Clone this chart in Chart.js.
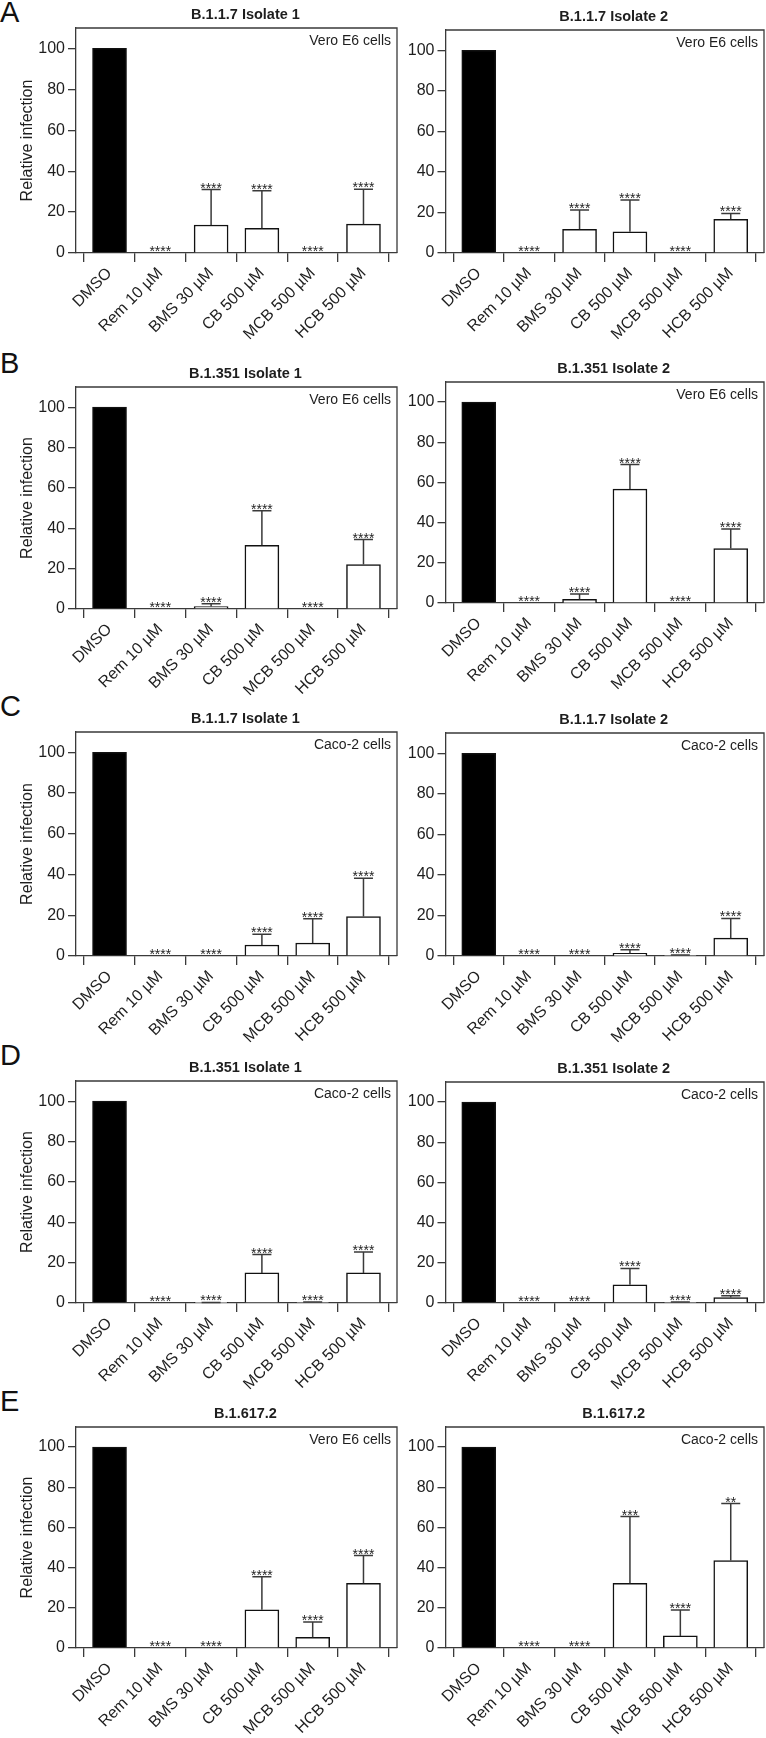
<!DOCTYPE html>
<html>
<head>
<meta charset="utf-8">
<title>Relative infection</title>
<script src="https://cdn.jsdelivr.net/npm/chart.js@4/dist/chart.umd.min.js"></script>
<style>
  body { margin: 0; background: #fff; }
  .page { position: relative; width: 766px; height: 1738px; overflow: hidden; font-family: "Liberation Sans", Arial, sans-serif; }
  .page canvas { position: absolute; }
  .letter { position: absolute; left: 0; font-size: 29px; line-height: 1; color: #111; }
</style>
</head>
<body>
<div class="page" id="page"></div>

<script>
// categories and axis ticks
var categories = ["DMSO", "Rem 10 \u00b5M", "BMS 30 \u00b5M", "CB 500 \u00b5M", "MCB 500 \u00b5M", "HCB 500 \u00b5M"];
var yTickValues = [0, 20, 40, 60, 80, 100];
var yMax = 110;

var panelLetters = ["A", "B", "C", "D", "E"];
var panelTitles = ["B.1.1.7 Isolate 1", "B.1.1.7 Isolate 2", "B.1.351 Isolate 1", "B.1.351 Isolate 2",
                   "B.1.1.7 Isolate 1", "B.1.1.7 Isolate 2", "B.1.351 Isolate 1", "B.1.351 Isolate 2",
                   "B.1.617.2", "B.1.617.2"];
var cellLines = ["Vero E6 cells", "Vero E6 cells", "Vero E6 cells", "Vero E6 cells",
                 "Caco-2 cells", "Caco-2 cells", "Caco-2 cells", "Caco-2 cells",
                 "Vero E6 cells", "Caco-2 cells"];

// mean relative infection and SD (upper error bar) per panel
var meanA1 = [100, 0, 13.7, 12.1, 0, 14.1];
var sdA1   = [0, 0, 17.3, 18.3, 0, 17.1];
var meanA2 = [100, 0, 11.7, 10.5, 0, 16.6];
var sdA2   = [0, 0, 9.5, 15.6, 0, 2.9];
var meanB1 = [100, 0, 1.2, 31.6, 0, 22.0];
var sdB1   = [0, 0, 1.4, 17.1, 0, 12.4];
var meanB2 = [100, 0, 1.8, 56.7, 0, 27.1];
var sdB2   = [0, 0, 2.7, 12.2, 0, 9.7];
var meanC1 = [100, 0, 0, 5.4, 6.4, 19.4];
var sdC1   = [0, 0, 0, 5.3, 11.9, 18.8];
var meanC2 = [100, 0, 0, 1.3, 0.3, 8.8];
var sdC2   = [0, 0, 0, 1.8, 0.2, 9.7];
var meanD1 = [100, 0, 0.2, 14.9, 0.3, 14.9];
var sdD1   = [0, 0, 0.1, 9.1, 0.2, 10.4];
var meanD2 = [100, 0, 0, 9.1, 0.3, 2.7];
var sdD2   = [0, 0, 0, 8.1, 0.2, 0.9];
var meanE1 = [100, 0, 0, 19.0, 5.3, 32.2];
var sdE1   = [0, 0, 0, 16.5, 7.7, 13.8];
var meanE2 = [100, 0, 0, 32.2, 6.0, 43.5];
var sdE2   = [0, 0, 0, 33.2, 12.9, 28.4];

// significance marks
var starsAll = ["", "****", "****", "****", "****", "****"];
var starsE2  = ["", "****", "****", "***", "****", "**"];

var means = [meanA1, meanA2, meanB1, meanB2, meanC1, meanC2, meanD1, meanD2, meanE1, meanE2];
var sds   = [sdA1, sdA2, sdB1, sdB2, sdC1, sdC2, sdD1, sdD2, sdE1, sdE2];
var stars = [starsAll, starsAll, starsAll, starsAll, starsAll, starsAll, starsAll, starsAll, starsAll, starsE2];

// layout (pixels): frame top and x-axis line for each panel
var frameTops = [28, 30, 387, 382, 732, 733, 1081, 1082, 1427, 1427];
var axisLines = [253, 253, 609, 603, 956, 956, 1303, 1303, 1648, 1648];
var letterTops = [-2, 349, 692, 1041, 1387];
var colLeft = [0, 404];
var colWidth = [404, 362];
var frameLeft = [76, 445.5];
var frameRight = [397, 764];

var FONT = "'Liberation Sans', Arial, sans-serif";
var INK = "#1e1e1e";
var LINE = "#3a3a3a";

var page = document.getElementById("page");

panelLetters.forEach(function (l, r) {
  var d = document.createElement("div");
  d.className = "letter";
  d.style.top = letterTops[r] + "px";
  d.textContent = l;
  page.appendChild(d);
});

function makeDecor(p) {
  return {
    id: "decor" + p,
    afterDatasetsDraw: function (chart) {
      var ctx = chart.ctx, a = chart.chartArea;
      var xs = chart.scales.x, ys = chart.scales.y;
      ctx.save();
      ctx.strokeStyle = LINE;
      ctx.lineWidth = 1.3;
      ctx.beginPath();
      ctx.moveTo(a.left, a.top);
      ctx.lineTo(a.right, a.top);
      ctx.lineTo(a.right, a.bottom);
      ctx.stroke();

      ctx.lineWidth = 1.5;
      ctx.fillStyle = INK;
      ctx.font = "14px " + FONT;
      ctx.textAlign = "center";
      ctx.textBaseline = "alphabetic";
      means[p].forEach(function (m, i) {
        var sd = sds[p][i];
        var cx = xs.getPixelForValue(i);
        var yTop = ys.getPixelForValue(m + sd);
        if (sd > 0) {
          ctx.beginPath();
          ctx.moveTo(cx, ys.getPixelForValue(m));
          ctx.lineTo(cx, yTop);
          ctx.moveTo(cx - 9.5, yTop);
          ctx.lineTo(cx + 9.5, yTop);
          ctx.stroke();
        }
        if (stars[p][i]) ctx.fillText(stars[p][i], cx, yTop + 3);
      });

      ctx.font = "14px " + FONT;
      ctx.textAlign = "right";
      ctx.textBaseline = "middle";
      ctx.fillText(cellLines[p], a.right - 6, a.top + 13.5);

      ctx.font = "bold 14.5px " + FONT;
      ctx.textAlign = "center";
      ctx.fillText(panelTitles[p], (a.left + a.right) / 2 + 9, a.top - 13);
      ctx.restore();
    }
  };
}

means.forEach(function (m, p) {
  var col = p % 2;
  var topPad = 30;
  var below = 95;
  var canvasTop = frameTops[p] - topPad;
  var h = (axisLines[p] - frameTops[p]) + topPad + below;
  var cv = document.createElement("canvas");
  cv.width = colWidth[col];
  cv.height = h;
  cv.style.left = colLeft[col] + "px";
  cv.style.top = canvasTop + "px";
  page.appendChild(cv);

  var yWidth = frameLeft[col] - colLeft[col];
  var rightPad = colLeft[col] + colWidth[col] - frameRight[col];

  new Chart(cv, {
    type: "bar",
    data: {
      datasets: [{
        data: m.map(function (v, i) { return {x: i, y: v}; }),
        backgroundColor: m.map(function (v, i) { return i === 0 ? "#000" : "#fff"; }),
        borderColor: "#111",
        borderWidth: 1.5,
        barThickness: 34
      }]
    },
    options: {
      responsive: false,
      animation: false,
      events: [],
      devicePixelRatio: 1,
      layout: {padding: {top: topPad, right: rightPad, left: 0, bottom: 0}},
      plugins: {legend: {display: false}, tooltip: {enabled: false}},
      scales: {
        x: {
          type: "linear",
          offset: false,
          min: -0.66,
          max: 5.66,
          afterBuildTicks: function (axis) {
            axis.ticks = categories.map(function (c, i) { return {value: i}; });
          },
          afterFit: function (axis) { axis.height = below; },
          grid: {display: true, drawOnChartArea: false, drawTicks: true, tickLength: 9, color: LINE, lineWidth: 1.3},
          border: {display: true, color: LINE, width: 1.3},
          ticks: {
            autoSkip: false,
            minRotation: 45,
            maxRotation: 45,
            padding: 2,
            color: INK,
            font: {family: FONT, size: 16},
            callback: function (v) { return categories[v]; }
          }
        },
        y: {
          min: 0,
          max: yMax,
          afterBuildTicks: function (axis) {
            axis.ticks = yTickValues.map(function (v) { return {value: v}; });
          },
          afterFit: function (axis) { axis.width = yWidth; },
          grid: {display: true, drawOnChartArea: false, drawTicks: true, tickLength: 8, color: LINE, lineWidth: 1.3},
          border: {display: true, color: LINE, width: 1.3},
          ticks: {padding: 3, color: INK, font: {family: FONT, size: 16}},
          title: {
            display: col === 0,
            text: "Relative infection",
            color: INK,
            font: {family: FONT, size: 16},
            padding: {top: 18, bottom: 0}
          }
        }
      }
    },
    plugins: [makeDecor(p)]
  });
});
</script>
</body>
</html>
